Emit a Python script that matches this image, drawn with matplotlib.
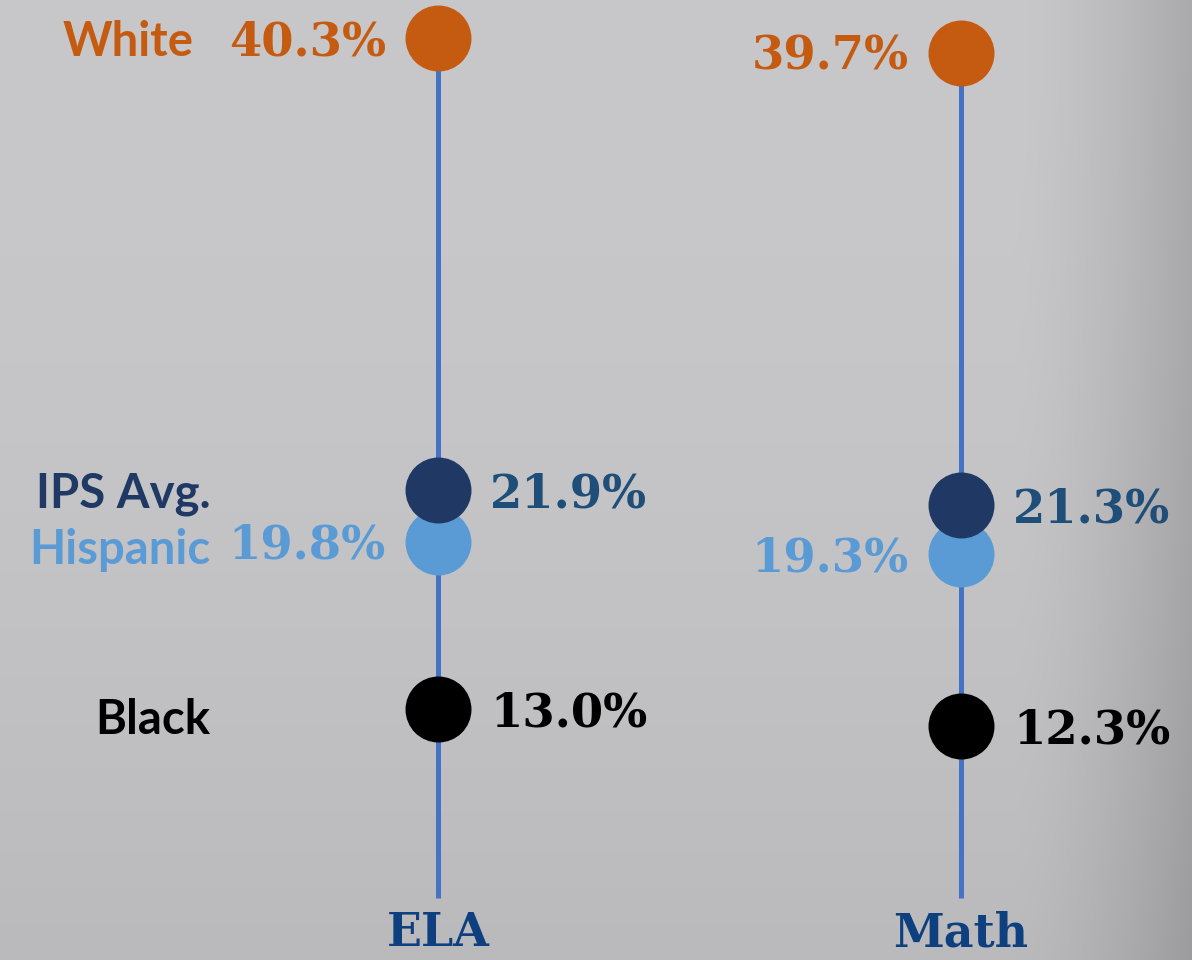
import numpy as np
import matplotlib.pyplot as plt

subjects = ["ELA", "Math"]
groups = ["White", "IPS Avg.", "Hispanic", "Black"]
ela = [40.3, 21.9, 19.8, 13.0]
math = [39.7, 21.3, 19.3, 12.3]

dot_colors = ["#C55A11", "#1F3864", "#5B9BD5", "#000000"]
num_colors = ["#C55A11", "#1F4E79", "#5B9BD5", "#000000"]
# which side the number sits on (-1 left, +1 right)
num_side = [-1, 1, -1, 1]

fig = plt.figure(figsize=(11.92, 9.6), dpi=100)
ax = fig.add_axes([0, 0, 1, 1])
ax.set_xlim(-0.8375, 1.4417)
ax.set_ylim(2.78, 41.85)
ax.axis("off")

# grey backdrop, darker toward the right edge and bottom
w, h = 600, 480
gx = np.linspace(0, 1, w)
gy = np.linspace(0, 1, h)[:, None]
shade = 200 - 30 * np.clip((gx - 0.85) / 0.15, 0, 1) ** 1.5 - 14 * gy ** 2
shade = np.repeat(shade[:, :, None], 3, axis=2) / 255.0
shade[:, :, 2] += 3 / 255.0
ax.imshow(np.clip(shade, 0, 1), extent=(-0.8375, 1.4417, 2.78, 41.85),
          aspect="auto", zorder=0, origin="upper")

line_bottom = 5.3
for i, vals in enumerate([ela, math]):
    ax.plot([i, i], [line_bottom, vals[0]], color="#4472C4", lw=3.6, zorder=1,
            solid_capstyle="butt")
    for j in [0, 3, 2, 1]:
        ax.scatter(i, vals[j], s=2256, color=dot_colors[j], zorder=2, linewidths=0)
    for j, v in enumerate(vals):
        side = num_side[j]
        ax.annotate(f"{v:.1f}%", xy=(i, v), xytext=(side * 37.4, -3),
                    textcoords="offset points", ha="left" if side > 0 else "right",
                    va="center", fontsize=33.5, fontweight="bold",
                    family="DejaVu Serif", color=num_colors[j], zorder=3)
    ax.annotate(subjects[i], xy=(i, line_bottom), xytext=(0, -42),
                textcoords="offset points", ha="center", va="bottom",
                fontsize=33, fontweight="bold", family="DejaVu Serif",
                color="#0E3F7E")

# group names on the left of the ELA line
label_off = [-176, -164, -164, -164]
label_dy = [-3, -3, -6, -8]
for j, g in enumerate(groups):
    ax.annotate(g, xy=(0, ela[j]), xytext=(label_off[j], label_dy[j]),
                textcoords="offset points", ha="right", va="center",
                fontsize=34, fontweight="bold", family="Lato",
                color=dot_colors[j] if j != 1 else "#1F3864")

fig.savefig("out.png", dpi=100)
